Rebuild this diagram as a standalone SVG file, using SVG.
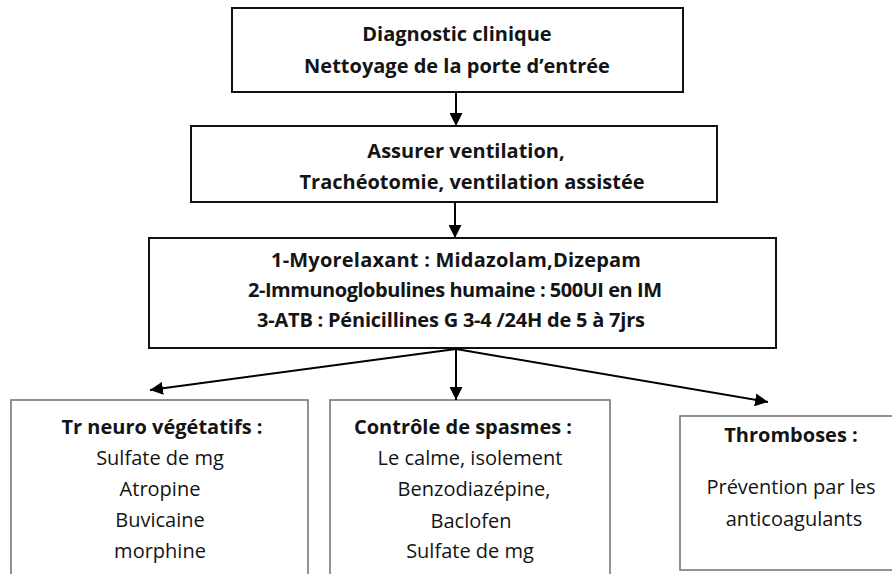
<svg xmlns="http://www.w3.org/2000/svg" width="892" height="574" viewBox="0 0 892 574">
<style>
.main{fill:#fff;stroke:#111;stroke-width:2}
.sub{fill:#fff;stroke:#777;stroke-width:1.6}
text{font-family:"Open Sans","Liberation Sans",sans-serif;font-size:20px;fill:#141414;text-anchor:middle}
.b{font-weight:bold}
.conn line{stroke:#000;stroke-width:2}
</style>
<defs>
<marker id="ah" viewBox="0 0 10 10" refX="10" refY="5" markerWidth="6.5" markerHeight="6.5" markerUnits="strokeWidth" orient="auto">
<path d="M0,0 L10,5 L0,10 z" fill="#000"/>
</marker>
</defs>
<rect width="892" height="574" fill="#fff"/>
<g id="n1">
<rect class="main" x="232" y="8" width="451" height="84"/>
<text class="b" x="457" y="41">Diagnostic clinique</text>
<text class="b" x="457" y="73">Nettoyage de la porte d’entrée</text>
</g>
<g id="n2">
<rect class="main" x="191" y="126" width="526" height="76"/>
<text class="b" x="466" y="158">Assurer ventilation,</text>
<text class="b" x="472" y="189">Trachéotomie, ventilation assistée</text>
</g>
<g id="n3">
<rect class="main" x="149" y="238" width="627" height="110"/>
<text class="b" x="456" y="267" textLength="370">1-Myorelaxant : Midazolam,Dizepam</text>
<text class="b" x="455" y="297" textLength="414">2-Immunoglobulines humaine : 500UI en IM</text>
<text class="b" x="451" y="327" textLength="388">3-ATB : Pénicillines G 3-4 /24H de 5 à 7jrs</text>
</g>
<g id="n4">
<rect class="sub" x="11" y="400" width="297" height="180"/>
<text class="b" x="162" y="434">Tr neuro végétatifs :</text>
<text x="160" y="465">Sulfate de mg</text>
<text x="160" y="496">Atropine</text>
<text x="160" y="527">Buvicaine</text>
<text x="160" y="558">morphine</text>
</g>
<g id="n5">
<rect class="sub" x="330" y="400" width="280" height="180"/>
<text class="b" x="463" y="434">Contrôle de spasmes :</text>
<text x="470" y="465">Le calme, isolement</text>
<text x="474" y="496">Benzodiazépine,</text>
<text x="471" y="528">Baclofen</text>
<text x="470" y="558">Sulfate de mg</text>
</g>
<g id="n6">
<rect class="sub" x="680" y="416" width="230" height="154"/>
<text class="b" x="791" y="442">Thromboses :</text>
<text x="791" y="494">Prévention par les</text>
<text x="794" y="526">anticoagulants</text>
</g>
<g class="conn">
<line x1="456" y1="92" x2="456" y2="126" marker-end="url(#ah)"/>
<line x1="455" y1="202" x2="455" y2="238" marker-end="url(#ah)"/>
<line x1="456" y1="349" x2="456" y2="400" marker-end="url(#ah)"/>
<line x1="456" y1="349" x2="150" y2="390" marker-end="url(#ah)"/>
<line x1="456" y1="349" x2="768" y2="402" marker-end="url(#ah)"/>
</g>
</svg>
